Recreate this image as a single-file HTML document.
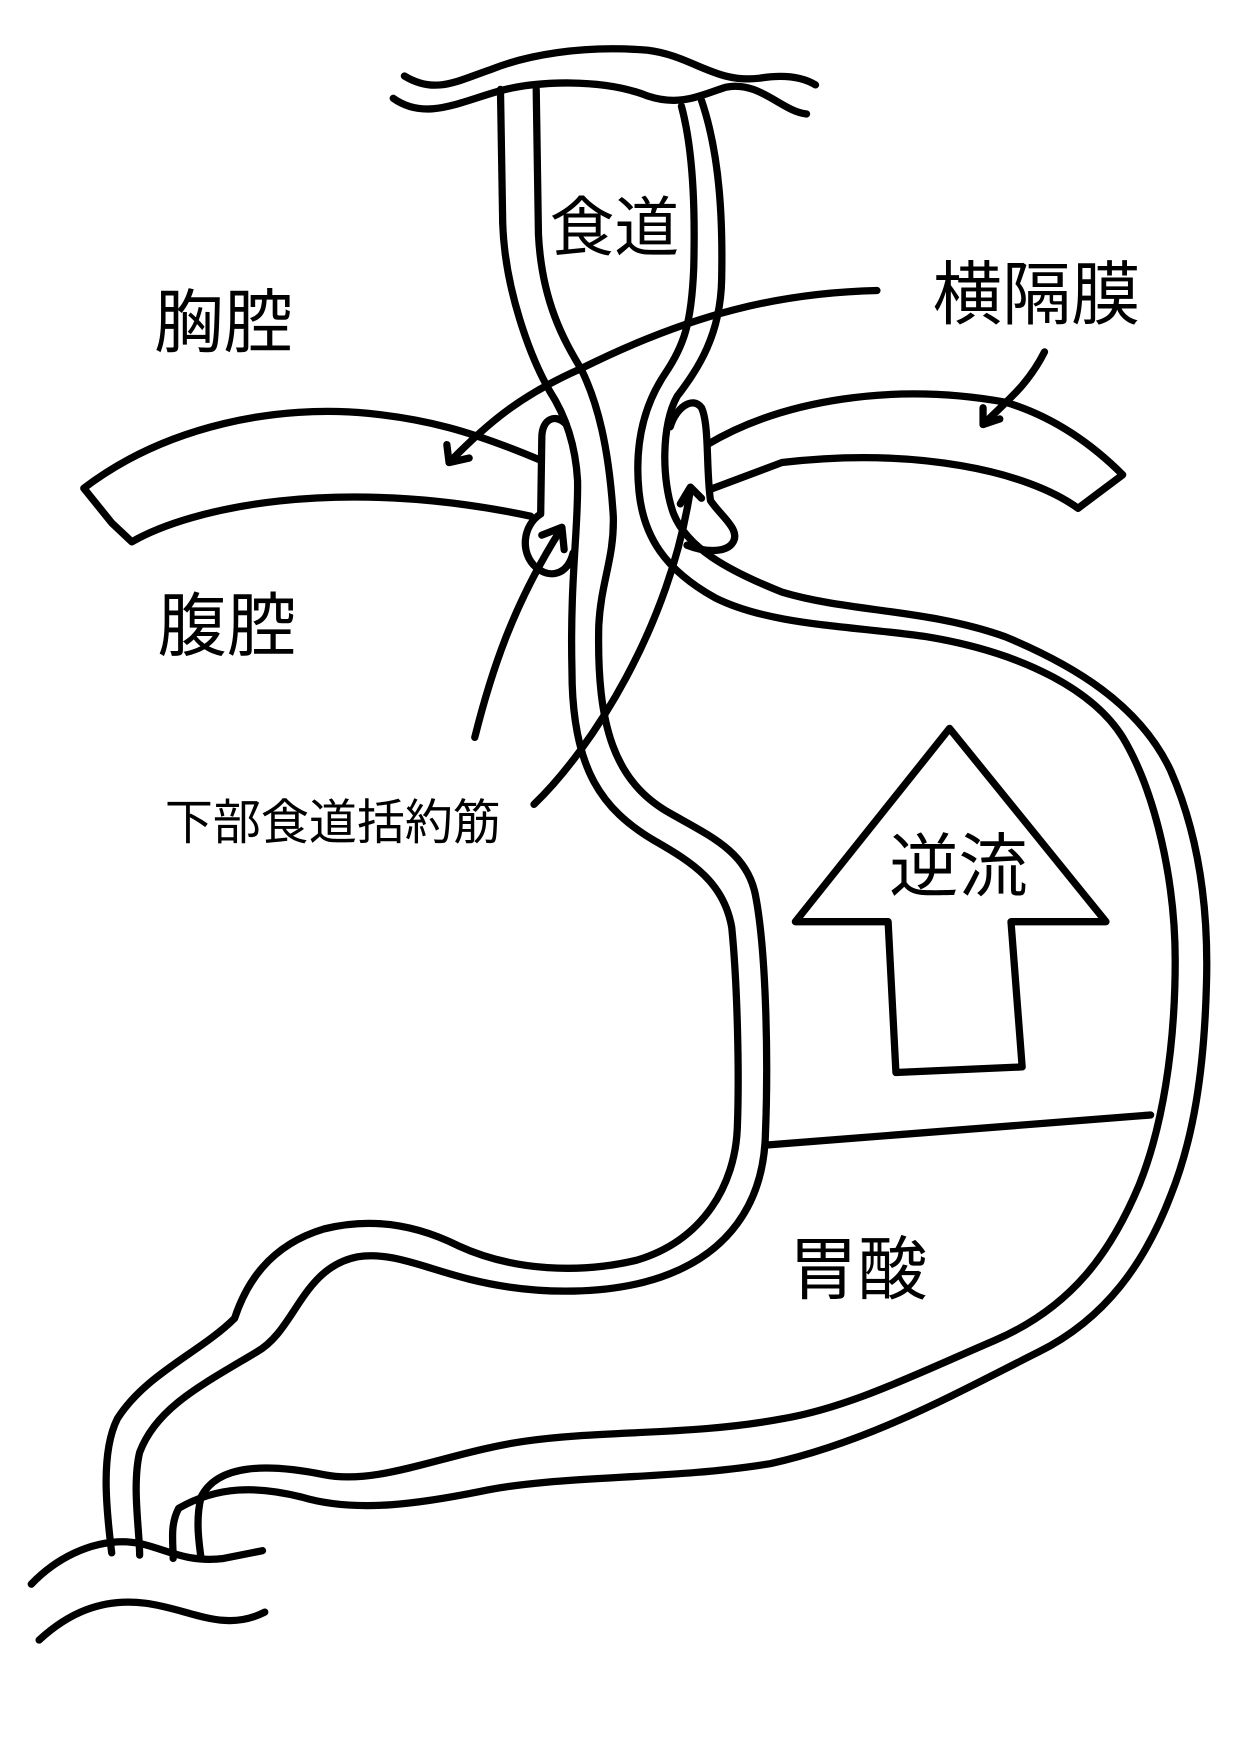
<!DOCTYPE html>
<html><head><meta charset="utf-8"><style>
html,body{margin:0;padding:0;background:#fff;}
svg{display:block;}
text{font-family:"Liberation Sans","Noto Sans CJK JP",sans-serif;fill:#000;}
</style></head><body>
<svg width="1240" height="1754" viewBox="0 0 1110 1570" preserveAspectRatio="none" xmlns="http://www.w3.org/2000/svg">
<g fill="none" stroke="#000" stroke-width="6.5" stroke-linecap="round" stroke-linejoin="round">
<!-- top waves -->
<path d="M362,68 C390,85 410,72 440,62 C470,50 520,40 580,45 C620,50 640,75 680,70 C705,66 720,70 730,76"/>
<path d="M352,88 C380,108 410,92 445,82 C480,72 540,70 580,86 C610,96 630,84 650,78 C680,72 700,100 722,102"/>
<!-- bottom waves -->
<path d="M28,1418 C50,1395 80,1380 110,1380 C140,1380 160,1400 200,1395 L235,1388"/>
<path d="M35,1468 C60,1445 90,1430 130,1435 C170,1440 200,1462 237,1443"/>
<!-- esophagus line A (outer left) -> lesser curvature inner -->
<path d="M448,80 L450,200 C452,260 475,320 492,350 C505,370 515,395 517,430 C518,470 510,520 512,600 C512,690 540,725 585,752 C620,772 648,790 655,830 C660,880 662,960 660,1010 C658,1060 630,1110 570,1128 C520,1140 460,1138 410,1115 C370,1095 330,1090 290,1100 C240,1115 220,1150 210,1180 C180,1210 130,1230 105,1270 C90,1300 95,1350 100,1390"/>
<!-- line B -> lesser curvature outer -->
<path d="M480,80 L482,210 C485,270 505,305 520,330 C535,360 545,400 549,462 C550,500 538,520 536,560 C534,650 550,700 600,728 C635,748 668,762 676,800 C686,850 688,950 685,1020 C682,1080 650,1120 600,1140 C550,1160 480,1160 420,1145 C380,1135 350,1120 320,1125 C270,1135 265,1190 230,1210 C180,1240 140,1260 125,1300 C118,1330 125,1370 125,1392"/>
<!-- line C (inner right) -> greater curvature inner -->
<path d="M610,95 C622,140 622,200 621,240 C619,290 612,310 595,335 C575,365 568,400 572,440 C576,480 595,510 640,535 C690,560 760,560 830,570 C920,585 980,620 1005,660 C1035,710 1052,790 1052,860 C1052,940 1040,1010 1020,1060 C995,1120 960,1170 890,1200 C820,1230 760,1260 700,1270 C620,1285 540,1280 470,1290 C400,1300 340,1330 290,1320 C240,1310 195,1310 180,1340 C175,1360 178,1380 180,1395"/>
<!-- line D (outer right) -> greater curvature outer -->
<path d="M628,90 C645,140 647,200 646,250 C645,300 625,330 606,355 C592,380 592,430 603,460 C615,490 650,510 700,530 C760,548 830,545 900,570 C960,595 1020,630 1048,690 C1072,745 1082,810 1080,880 C1078,960 1068,1020 1048,1070 C1025,1130 990,1180 930,1210 C860,1245 780,1290 690,1310 C600,1325 500,1320 430,1335 C380,1345 320,1355 270,1340 C230,1330 195,1330 160,1350 C152,1365 155,1380 155,1395"/>
<!-- diaphragm left band -->
<path d="M484,412 C420,385 380,375 330,370 C250,362 150,380 75,437 L100,468 L118,485 C170,455 300,425 475,462"/>
<!-- diaphragm right band -->
<path d="M633,398 C700,358 800,342 900,360 C950,375 985,405 1005,425 L965,455 C920,422 820,400 700,414 L636,438"/>
<!-- sphincter loops -->
<path d="M507,380 C498,370 485,374 485,392 L484,460 C468,470 465,495 480,508 C492,518 508,515 513,495"/>
<path d="M600,382 C605,365 620,354 628,365 C635,380 632,420 636,448 C645,462 665,475 655,487 C648,495 630,494 615,488"/>
<!-- arrows -->
<path d="M785,260 C700,262 620,280 520,330 C470,352 440,375 402,414"/>
<path d="M400,398 L402,414 L420,410"/>
<path d="M935,315 C920,345 900,360 880,380"/>
<path d="M880,365 L880,380 L895,375"/>
<path d="M425,660 C440,600 460,540 502,474"/>
<path d="M485,479 L503,472 L505,492"/>
<path d="M478,720 C530,670 600,560 618,438"/>
<path d="M609,451 L618,436 L628,446"/>
<!-- reflux arrow -->
<path d="M850,652 L712,825 L795,825 L802,960 L915,955 L905,825 L990,825 Z"/>
<!-- acid line -->
<path d="M685,1025 L1030,998"/>
</g>
<g>
<text x="550" y="224" font-size="58" text-anchor="middle">食道</text>
<text x="200" y="310" font-size="62" text-anchor="middle">胸腔</text>
<text x="928" y="285" font-size="62" text-anchor="middle">横隔膜</text>
<text x="203" y="582" font-size="62" text-anchor="middle">腹腔</text>
<text x="298" y="751" font-size="43" text-anchor="middle">下部食道括約筋</text>
<text x="858" y="797" font-size="62" text-anchor="middle">逆流</text>
<text x="768" y="1158" font-size="62" text-anchor="middle">胃酸</text>
</g>
</svg>
</body></html>
